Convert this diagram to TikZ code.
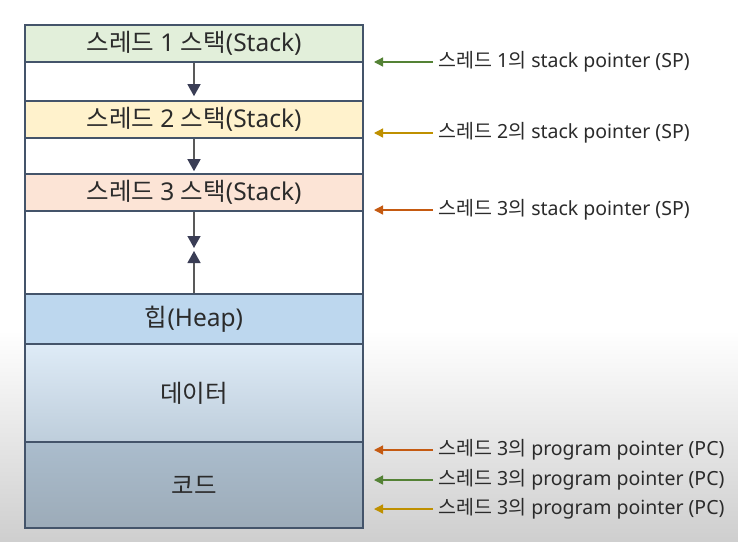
\documentclass[tikz,border=0pt]{standalone}
\usepackage{fontspec}
\setmainfont{Noto Sans}
\newfontfamily\kr{Noto Sans CJK KR}
\usetikzlibrary{arrows.meta}

\definecolor{frame}{HTML}{44546A}
\definecolor{ink}{HTML}{2B2B2B}
\definecolor{stackA}{HTML}{E2EFDA}
\definecolor{stackB}{HTML}{FFF2CC}
\definecolor{stackC}{HTML}{FCE4D6}
\definecolor{heapc}{HTML}{BDD7EE}
\definecolor{spgreen}{HTML}{548235}
\definecolor{spgold}{HTML}{BF9000}
\definecolor{sporange}{HTML}{C55A11}
\definecolor{headc}{HTML}{3A3D55}

\begin{document}
\begin{tikzpicture}[
    x=1pt, y=-1pt,
    seg/.style={draw=frame, line width=1.6pt, rectangle, inner sep=0pt,
                minimum width=338pt, text=ink, font=\fontsize{24.5}{24.5}\selectfont},
    flow/.style={draw=black!65, line width=1.3pt,
                 -{Triangle[width=13pt, length=12pt, color=headc]}},
    ptr/.style={line width=1.3pt, -{Triangle[width=9pt, length=9pt]}},
    lbl/.style={anchor=west, inner sep=0pt, text=ink, font=\fontsize{19.5}{19.5}\selectfont}
]

% Background
\fill[white] (0,0) rectangle (738,541);
\shade[top color=white, bottom color=black!19] (0,330) rectangle (738,541);

% Memory segments
\node[seg, fill=stackA, minimum height=37pt] (s1) at (194, 43.5) {{\kr 스레드} 1 {\kr 스택}(Stack)};
\node[seg, fill=white, minimum height=39pt] (g1) at (194, 81.5) {};
\node[seg, fill=stackB, minimum height=37pt] (s2) at (194, 119.5) {{\kr 스레드} 2 {\kr 스택}(Stack)};
\node[seg, fill=white, minimum height=36pt] (g2) at (194, 156) {};
\node[seg, fill=stackC, minimum height=37pt] (s3) at (194, 192.5) {{\kr 스레드} 3 {\kr 스택}(Stack)};
\node[seg, fill=white, minimum height=83pt] (g3) at (194, 252.5) {};
\node[seg, fill=heapc, minimum height=50pt] (heap) at (194, 319) {{\kr 힙}(Heap)};
\node[seg, top color=heapc!50!white, bottom color=heapc!75!gray!80, minimum height=98pt] (data) at (194, 393) {\kr 데이터};
\node[seg, top color=heapc!70!gray, bottom color=heapc!60!gray!95!black, minimum height=86pt] (code) at (194, 485) {\kr 코드};

% Growth arrows
\coordinate (down3) at (194, 248);
\coordinate (up3) at (194, 251);
\draw[flow, shorten >=4pt] (s1.south) -- (s2.north);
\draw[flow, shorten >=2pt] (s2.south) -- (s3.north);
\draw[flow] (s3.south) -- (down3);
\draw[flow] (heap.north) -- (up3);

% Pointer labels
\foreach \name/\y/\txt/\col in {sp1/62/{{\kr 스레드} 1{\kr 의} stack pointer (SP)}/spgreen,
                                sp2/133/{{\kr 스레드} 2{\kr 의} stack pointer (SP)}/spgold,
                                sp3/210/{{\kr 스레드} 3{\kr 의} stack pointer (SP)}/sporange,
                                pc1/450/{{\kr 스레드} 3{\kr 의} program pointer (PC)}/sporange,
                                pc2/480/{{\kr 스레드} 3{\kr 의} program pointer (PC)}/spgreen,
                                pc3/509/{{\kr 스레드} 3{\kr 의} program pointer (PC)}/spgold} {
    \node[lbl] (\name) at (438, \y) {\txt};
    \coordinate (\name tip) at (374, \y);
    \draw[ptr, \col] ([xshift=-5pt]\name.west) -- (\name tip);
}

\end{tikzpicture}
\end{document}
